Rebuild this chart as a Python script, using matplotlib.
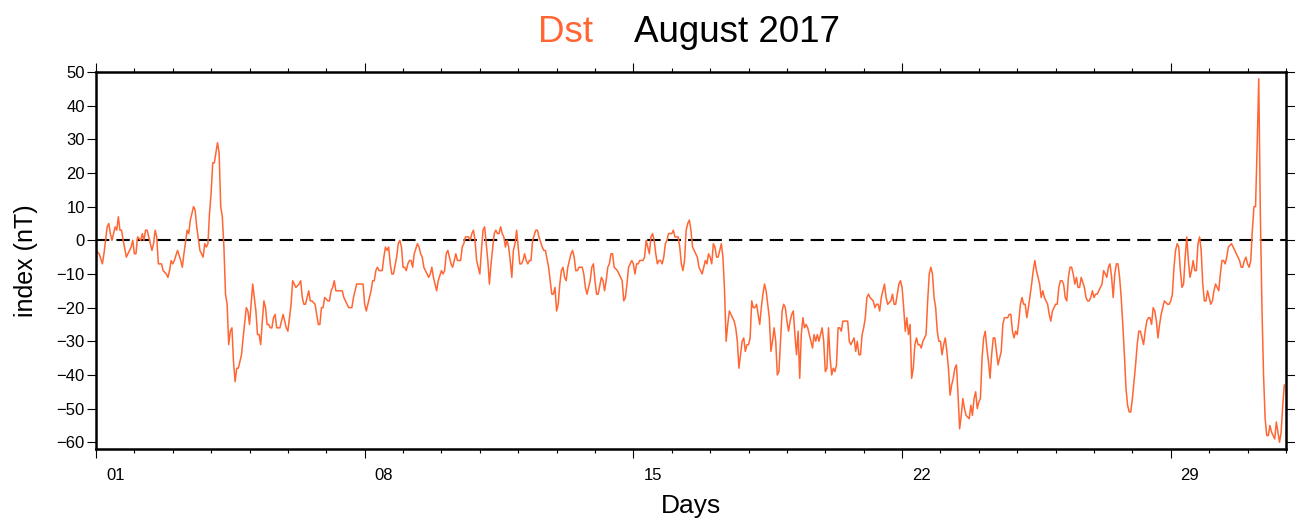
"""
Dst index, August 2017 (hourly values read off the reference plot)
"""
import numpy as np
import matplotlib
matplotlib.use('Agg')
import matplotlib.pyplot as plt
import matplotlib.transforms as mtransforms
from matplotlib.ticker import FixedLocator, MultipleLocator, NullFormatter

plt.rcParams['font.family'] = ['Liberation Sans', 'DejaVu Sans']

# (hour since 2017-08-01 00:00 UT, Dst in nT)
dst_aug01_06 = [
    (0, -3), (2, -4), (4, -7), (5, -4), (7, 4), (8, 5), (9, 2), (10, 0), (12, 4), (13, 3),
    (14, 7), (15, 3), (16, 3), (17, 0), (19, -5), (21, -3), (22, -2), (23, 0), (24, -4), (25, -4),
    (26, 1), (28, 0), (29, 2), (30, 0), (31, 3), (32, 3), (33, 1), (35, -3), (36, -1), (37, 3),
    (38, 1), (39, -7), (40, -7), (41, -7), (42, -9), (44, -10), (45, -11), (46, -9), (47, -6), (48, -7),
    (49, -6), (51, -3), (53, -6), (54, -8), (55, -4), (57, 3), (58, 2), (59, 6), (61, 10), (62, 9),
    (63, 4), (65, -3), (66, -4), (67, -5), (68, -1), (69, -2), (70, -1), (71, 8), (72, 14), (73, 23),
    (74, 23), (75, 26), (76, 29), (77, 26), (78, 10), (79, 7), (80, -2), (81, -16), (82, -19), (83, -31),
    (84, -27), (85, -26), (86, -36), (87, -42), (88, -38), (89, -38), (91, -34), (92, -29), (94, -20), (95, -21),
    (96, -25), (97, -19), (98, -13), (100, -21), (101, -28), (102, -28), (103, -31), (104, -24), (105, -18), (106, -20),
    (107, -25), (108, -25), (109, -26), (110, -26), (111, -23), (112, -22), (113, -26), (115, -26), (117, -22), (118, -24),
    (119, -26), (120, -27), (122, -19), (123, -12),
]
dst_aug06_11 = [
    (124, -13), (125, -14), (127, -13), (128, -12), (129, -17), (130, -19), (131, -19), (133, -15), (134, -18), (135, -18),
    (137, -19), (139, -25), (140, -25), (141, -20), (142, -20), (143, -17), (145, -18), (146, -18), (147, -15), (148, -14),
    (149, -12), (150, -15), (151, -15), (153, -15), (154, -15), (155, -17), (157, -19), (158, -20), (160, -20), (161, -17),
    (163, -13), (165, -13), (167, -13), (168, -19), (169, -21), (170, -19), (172, -15), (173, -12), (174, -12), (175, -9),
    (176, -8), (177, -9), (179, -9), (180, -5), (181, -2), (182, -3), (183, -2), (184, -7), (185, -10), (186, -10),
    (188, -5), (189, -1), (190, 0), (191, -2), (192, -8), (193, -8), (194, -9), (195, -7), (196, -6), (197, -6),
    (198, -8), (199, -4), (201, -1), (202, -2), (203, -4), (204, -5), (205, -8), (206, -9), (208, -11), (209, -10),
    (210, -8), (211, -11), (212, -13), (213, -15), (214, -12), (216, -9), (217, -10), (218, -9), (219, -4), (220, -3),
    (221, -5), (222, -7), (223, -8), (224, -6), (225, -4), (226, -6), (227, -6), (228, -6), (229, -2), (230, -1),
    (231, 1), (233, 1), (234, 0), (235, 2), (236, 3), (237, 0), (238, -6), (240, -10), (241, -3), (242, 3),
    (243, 4), (244, -1), (245, -6), (246, -13), (247, -7), (249, 2),
]
dst_aug11_16 = [
    (250, 3), (251, 2), (252, 2), (253, 4), (254, 2), (255, 1), (256, -2), (257, 0), (258, -2), (259, -6),
    (260, -11), (261, -3), (262, -1), (263, 3), (264, -2), (265, -7), (266, -7), (267, -6), (268, -4), (269, -6),
    (270, -7), (271, -6), (272, -6), (273, 0), (275, 3), (276, 3), (277, 1), (279, -2), (280, -3), (281, -3),
    (283, -8), (284, -12), (285, -16), (286, -16), (287, -14), (288, -21), (289, -19), (290, -13), (291, -9), (292, -8),
    (293, -11), (294, -12), (295, -8), (297, -4), (298, -3), (299, -5), (300, -9), (301, -9), (302, -8), (304, -8),
    (305, -10), (306, -14), (307, -16), (309, -12), (310, -8), (311, -7), (312, -12), (313, -16), (314, -16), (316, -11),
    (317, -12), (318, -15), (319, -12), (320, -8), (321, -7), (322, -4), (323, -4), (324, -8), (326, -9), (327, -10),
    (329, -12), (330, -18), (331, -17), (332, -13), (333, -8), (335, -6), (336, -7), (337, -10), (338, -7), (339, -7),
    (340, -6), (341, -6), (342, -6), (343, -5), (344, 0), (345, -2), (346, -4), (347, 1), (348, 2), (349, 0),
    (350, -4), (351, -7), (352, -6), (353, -6), (354, -7), (355, -5), (356, -1), (357, 0), (358, 2), (359, 2),
    (360, 2), (361, 3), (362, 1), (363, 1), (364, 1), (365, -2), (366, -7), (367, -9), (368, -6),
]
dst_aug16_21 = [
    (369, 3), (370, 5), (371, 6), (372, 3), (373, -2), (375, -4), (376, -5), (377, -8), (379, -10), (380, -8),
    (381, -6), (382, -7), (383, -4), (384, -5), (385, -7), (386, -1), (387, -2), (388, -5), (389, -5), (391, -1),
    (392, -5), (393, -15), (394, -30), (395, -25), (396, -21), (397, -22), (399, -24), (400, -26), (401, -30), (402, -38),
    (403, -34), (404, -30), (405, -29), (406, -33), (407, -31), (408, -31), (409, -29), (410, -18), (411, -20), (412, -20),
    (413, -19), (414, -22), (415, -25), (416, -20), (417, -16), (418, -13), (419, -15), (420, -19), (421, -23), (422, -33),
    (423, -30), (424, -26), (425, -30), (426, -40), (427, -39), (428, -30), (429, -21), (430, -19), (431, -20), (432, -24),
    (433, -27), (434, -24), (435, -22), (436, -21), (437, -28), (438, -34), (439, -27), (440, -41), (441, -28), (442, -23),
    (443, -26), (444, -25), (445, -26), (446, -28), (447, -30), (448, -32), (449, -28), (450, -30), (451, -28), (452, -30),
    (453, -28), (454, -26), (455, -30), (456, -39), (457, -38), (458, -26), (459, -35), (460, -40), (461, -38), (462, -39),
    (463, -37), (464, -26), (465, -26), (466, -27), (467, -24), (468, -24), (470, -24), (471, -30), (472, -31), (473, -30),
    (474, -29), (475, -33), (476, -30), (477, -34), (478, -34), (479, -28), (480, -26), (481, -23), (482, -17), (483, -16),
    (484, -17), (486, -18), (487, -20), (488, -19), (489, -19), (490, -21),
]
dst_aug21_26 = [
    (491, -17), (493, -13), (494, -17), (495, -19), (497, -18), (498, -16), (499, -19), (500, -19), (501, -16), (502, -13),
    (503, -12), (504, -14), (505, -20), (506, -27), (507, -23), (508, -28), (509, -25), (510, -41), (511, -38), (512, -31),
    (513, -29), (514, -31), (515, -31), (516, -32), (517, -30), (518, -29), (519, -28), (520, -18), (521, -10), (522, -8),
    (523, -10), (524, -17), (525, -20), (526, -27), (527, -30), (528, -30), (529, -34), (530, -31), (531, -29), (532, -33),
    (533, -38), (534, -46), (535, -43), (536, -41), (537, -38), (538, -37), (539, -46), (540, -56), (541, -52), (542, -47),
    (543, -50), (544, -52), (546, -53), (547, -49), (548, -52), (549, -47), (550, -45), (551, -50), (552, -48), (553, -47),
    (554, -35), (555, -29), (556, -27), (557, -32), (558, -36), (559, -41), (560, -34), (561, -29), (562, -29), (563, -33),
    (564, -37), (565, -35), (566, -33), (567, -25), (568, -23), (569, -23), (570, -23), (571, -22), (572, -22), (573, -27),
    (574, -29), (575, -27), (576, -28), (577, -24), (578, -19), (579, -17), (580, -19), (581, -19), (582, -23), (583, -20),
    (585, -13), (586, -9), (587, -6), (588, -9), (589, -11), (590, -13), (591, -17), (592, -15), (593, -17), (594, -18),
    (595, -19), (596, -22), (597, -24), (598, -21), (599, -20), (600, -19), (601, -19), (602, -14), (603, -12), (604, -12),
    (605, -13), (606, -17), (607, -18), (608, -11), (609, -8), (610, -8), (611, -10),
]
dst_aug26_31 = [
    (612, -13), (613, -11), (614, -14), (615, -14), (616, -11), (618, -14), (619, -17), (620, -18), (621, -18), (622, -17),
    (623, -15), (624, -17), (625, -16), (626, -16), (628, -14), (629, -13), (630, -9), (631, -10), (632, -11), (633, -8),
    (634, -7), (635, -11), (636, -17), (637, -10), (638, -7), (639, -7), (640, -11), (641, -17), (642, -25), (643, -34),
    (644, -44), (645, -49), (646, -51), (647, -51), (648, -47), (649, -42), (650, -37), (651, -31), (652, -27), (653, -27),
    (654, -29), (655, -31), (656, -27), (657, -24), (658, -23), (659, -23), (660, -25), (661, -20), (662, -21), (663, -24),
    (664, -29), (665, -25), (666, -22), (667, -20), (668, -18), (670, -19), (671, -19), (672, -18), (673, -16), (674, -8),
    (675, -3), (676, -1), (677, -2), (678, -9), (679, -14), (680, -13), (681, -5), (682, 1), (683, -6), (684, -11),
    (685, -9), (686, -6), (687, -9), (688, -9), (689, -1), (690, 1), (691, -3), (692, -13), (693, -18), (694, -18),
    (695, -15), (696, -17), (697, -19), (698, -18), (699, -15), (700, -13), (701, -14), (702, -15), (703, -10), (704, -6),
    (705, -6), (706, -7), (707, -5), (708, -2), (710, -1), (711, -2), (712, -3), (713, -4), (714, -5), (715, -6),
    (716, -8), (717, -8), (718, -6), (719, -5), (720, -7), (721, -8), (722, -6), (723, 3), (724, 10), (725, 10),
    (726, 28), (727, 48), (728, 8), (729, -20), (730, -40), (731, -53), (732, -58), (733, -58), (734, -55), (735, -57),
    (736, -58), (737, -59), (738, -54), (739, -57), (740, -60), (741, -57), (742, -49), (743, -43),
]

week_starts = [1, 8, 15, 22, 29]
day_labels = ['01', '08', '15', '22', '29']
y_ticks = [-60, -50, -40, -30, -20, -10, 0, 10, 20, 30, 40, 50]
dst_color = '#ff6633'

pairs = dst_aug01_06 + dst_aug06_11 + dst_aug11_16 + dst_aug16_21 + dst_aug21_26 + dst_aug26_31
hours = np.array([p[0] for p in pairs], dtype=float)
dst = np.array([p[1] for p in pairs], dtype=float)
days = 1 + hours / 24.0

fig = plt.figure(figsize=(12.95, 5.21), dpi=100)
ax = fig.add_axes([0.0741, 0.1382, 0.9189, 0.7236])

ax.axhline(0, color='black', lw=1.5, dashes=(6.4, 3.4), zorder=1)
ax.plot(days, dst, color=dst_color, lw=1.1, zorder=2)

ax.set_xlim(1, 32)
ax.set_ylim(-62, 50)
ax.set_yticks(y_ticks)
ax.xaxis.set_major_locator(FixedLocator(week_starts))
ax.xaxis.set_minor_locator(MultipleLocator(1))
ax.xaxis.set_major_formatter(NullFormatter())
ax.tick_params(which='both', direction='out', top=True, right=True, labelright=False,
               width=0.8, labelsize=12, pad=1.5)
ax.tick_params(which='major', length=6.5)
ax.tick_params(which='minor', length=3.2)
for s in ax.spines.values():
    s.set_linewidth(1.8)

# day labels sit in the middle of each day, GMT style
trans = mtransforms.blended_transform_factory(ax.transData, ax.transAxes)
for d, lab in zip(week_starts, day_labels):
    ax.text(d + 0.5, -0.05, lab, transform=trans, ha='center', va='top', fontsize=12)

ax.set_xlabel('Days', fontsize=19)
ax.xaxis.set_label_coords(0.5, -0.12)
ax.set_ylabel('index (nT)', fontsize=18)
ax.yaxis.set_label_coords(-0.049, 0.5)

fig.text(0.4154, 0.919, 'Dst', color=dst_color, fontsize=26.5, va='baseline')
fig.text(0.4896, 0.919, 'August 2017', color='black', fontsize=26.5, va='baseline')

fig.savefig('out.png', dpi=100)
